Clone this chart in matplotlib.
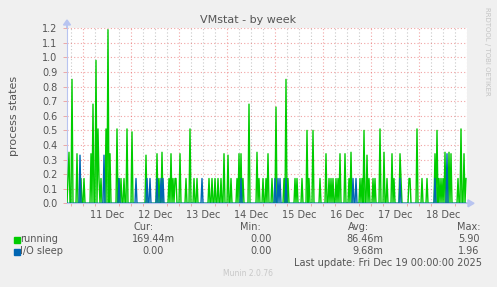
"""
Munin style "VMstat - by week" chart.
Output: out.png (497x287 px)
"""
import numpy as np
import matplotlib
matplotlib.use("Agg")
import matplotlib.pyplot as plt
from matplotlib.patches import Rectangle, FancyArrow

# ── Data (30-minute slots, slot 0 = Dec 10 16:00, 400 slots up to Dec 19 00:00) ──
N_SLOTS = 400
START_H = 16.0          # hours after Dec 10 00:00
SLOT_H = 0.5

RUN_SLOTS = [1, 2, 5, 10, 14, 17, 24, 26, 29, 31, 32, 34, 39, 41, 43, 50, 52, 54,
             57, 60, 65, 79, 90, 92, 95, 102, 104, 106, 108, 109, 113, 119, 123,
             127, 130, 142, 145, 148, 151, 154, 157, 161, 164, 170, 172, 174, 176,
             182, 190, 192, 196, 199, 201, 205, 209, 217, 219, 221, 228, 230, 235,
             240, 242, 246, 253, 259, 262, 264, 266, 269, 271, 273, 278, 282, 284,
             293, 295, 297, 300, 302, 306, 308, 313, 317, 320, 325, 327, 333, 334,
             342, 343, 350, 355, 360, 368, 370, 372, 374, 376, 378, 382, 384, 391,
             394, 397, 399]
RUN_VALS = [0.17, 0.35, 0.85, 0.34, 0.17, 0.17, 0.34, 0.68, 0.98, 0.51, 0.17, 0.17,
            0.51, 1.19, 0.34, 0.51, 0.17, 0.17, 0.17, 0.51, 0.49, 0.33, 0.34, 0.17,
            0.35, 0.17, 0.34, 0.17, 0.17, 0.17, 0.34, 0.17, 0.51, 0.17, 0.17, 0.17,
            0.17, 0.17, 0.17, 0.17, 0.34, 0.33, 0.17, 0.17, 0.34, 0.34, 0.17, 0.68,
            0.35, 0.17, 0.17, 0.17, 0.34, 0.17, 0.66, 0.17, 0.85, 0.17, 0.17, 0.17,
            0.17, 0.50, 0.17, 0.50, 0.17, 0.34, 0.17, 0.17, 0.17, 0.17, 0.17, 0.34,
            0.34, 0.17, 0.35, 0.17, 0.17, 0.50, 0.33, 0.17, 0.17, 0.17, 0.51, 0.35,
            0.17, 0.34, 0.17, 0.34, 0.17, 0.17, 0.17, 0.51, 0.17, 0.17, 0.34, 0.50,
            0.17, 0.17, 0.17, 0.35, 0.35, 0.34, 0.17, 0.51, 0.34, 0.17]

IO_SLOTS = [13, 37, 52, 69, 80, 83, 90, 94, 96, 135, 174, 208, 211, 213, 219,
            286, 289, 333, 368, 380]
IO_VALS = [0.33, 0.33, 0.17, 0.17, 0.17, 0.17, 0.17, 0.17, 0.17, 0.17, 0.17, 0.17,
           0.17, 0.17, 0.17, 0.17, 0.17, 0.17, 0.17, 0.34]

DAY_LABELS = ["11 Dec", "12 Dec", "13 Dec", "14 Dec", "15 Dec", "16 Dec",
              "17 Dec", "18 Dec"]
Y_TICKS = [0.0, 0.1, 0.2, 0.3, 0.4, 0.5, 0.6, 0.7, 0.8, 0.9, 1.0, 1.1, 1.2]

SERIES_NAMES = ["running", "I/O sleep"]
CUR = ["169.44m", "0.00"]
MIN = ["0.00", "0.00"]
AVG = ["86.46m", "9.68m"]
MAX = ["5.90", "1.96"]

# ── Build series ──────────────────────────────────────────────────────────────
hours = START_H + SLOT_H * np.arange(N_SLOTS)
running = np.zeros(N_SLOTS)
running[RUN_SLOTS] = RUN_VALS
io_sleep = np.zeros(N_SLOTS)
io_sleep[IO_SLOTS] = IO_VALS

# ── Style ─────────────────────────────────────────────────────────────────────
BG = "#F0F0F0"
TXT = "#555555"
GREEN = "#00CC00"
BLUE = "#0066B3"
MAJ = (0.9, 0.35, 0.35, 0.55)
MINC = "#C8C8C8"
AXC = "#B8C4F0"

W, H = 497, 287
fig = plt.figure(figsize=(W / 100, H / 100), dpi=100)
fig.patch.set_facecolor(BG)

def fx(px):
    return px / W

def fy(py):
    return 1 - py / H

ax = fig.add_axes([fx(67), fy(203.3), fx(467) - fx(67), fy(28.3) - fy(203.3)])
ax.set_facecolor("white")
ax.set_xlim(16, 216)
ax.set_ylim(0, 1.2)

# grid
midnights = np.arange(24, 217, 24)
six_h = [h for h in np.arange(18, 216, 6) if h % 24 != 0]
ax.vlines(six_h, 0, 1.2, colors=MINC, linestyles=(0, (1, 2)), linewidth=0.8, zorder=1)
ax.vlines(midnights, 0, 1.2, colors=[MAJ], linestyles=(0, (1, 2)), linewidth=0.8, zorder=1)
ax.hlines(Y_TICKS[1:], 16, 216, colors=[MAJ], linestyles=(0, (1, 2)), linewidth=0.8, zorder=1)

# data
ax.plot(hours, running, color=GREEN, linewidth=1.0, zorder=3)
ax.plot(hours, io_sleep, color=BLUE, linewidth=1.0, zorder=4)

# axes
for s in ["top", "right"]:
    ax.spines[s].set_visible(False)
ax.spines["left"].set_color(AXC)
ax.spines["bottom"].set_color(AXC)
ax.spines["left"].set_linewidth(0.8)
ax.spines["bottom"].set_linewidth(0.8)

ax.set_yticks(Y_TICKS)
ax.set_yticklabels([f"{v:.1f}" for v in Y_TICKS])
ax.tick_params(axis="y", length=3, width=0.6, color=MAJ, pad=4,
               labelsize=7, labelcolor=TXT)
ax.set_xticks(np.arange(36, 216, 24))
ax.set_xticklabels(DAY_LABELS)
ax.tick_params(axis="x", length=0, pad=5, labelsize=7, labelcolor=TXT)
ax.set_xticks(np.arange(18, 216, 6), minor=True)
ax.tick_params(axis="x", which="minor", length=2, width=0.6, color=MAJ)

ax.set_ylabel("process states", fontsize=8, color=TXT)
ax.yaxis.set_label_coords((19 - 67) / 400, 0.5)

# axis arrows
fig.patches.append(FancyArrow(fx(67), fy(28), 0, fy(20) - fy(28), width=0.0,
                              head_width=fx(7), head_length=fy(20) - fy(25),
                              length_includes_head=True, color=AXC,
                              transform=fig.transFigure, figure=fig))
fig.patches.append(FancyArrow(fx(467), fy(203.3), fx(474) - fx(467), 0, width=0.0,
                              head_width=fy(196) - fy(203), head_length=fx(6),
                              length_includes_head=True, color=AXC,
                              transform=fig.transFigure, figure=fig))

# title and side texts
fig.text(fx(248), fy(20), "VMstat - by week", ha="center", va="center",
         fontsize=8, color=TXT)
fig.text(fx(487.5), fy(51), "RRDTOOL / TOBI OETIKER", ha="center", va="center",
         rotation=270, fontsize=5, color="#C4C4C4")

# legend block
fig.text(fx(133), fy(227), "Cur:", ha="left", va="center", fontsize=7, color=TXT)
fig.text(fx(240), fy(227), "Min:", ha="left", va="center", fontsize=7, color=TXT)
fig.text(fx(347.7), fy(227), "Avg:", ha="left", va="center", fontsize=7, color=TXT)
fig.text(fx(480), fy(227), "Max:", ha="right", va="center", fontsize=7, color=TXT)

row_y = [239.5, 251.5]
colors = [GREEN, BLUE]
cur_right = [175.5, 163.5]
for i, name in enumerate(SERIES_NAMES):
    y = row_y[i]
    fig.patches.append(Rectangle((fx(14), fy(y + 3)), fx(5.5), fy(y - 3) - fy(y + 3),
                                 transform=fig.transFigure, color=colors[i]))
    fig.text(fx(20.5), fy(y), name, ha="left", va="center", fontsize=7, color=TXT)
    fig.text(fx(cur_right[i]), fy(y), CUR[i], ha="right", va="center",
             fontsize=7, color=TXT)
    fig.text(fx(272), fy(y), MIN[i], ha="right", va="center", fontsize=7, color=TXT)
    fig.text(fx(383.5), fy(y), AVG[i], ha="right", va="center", fontsize=7, color=TXT)
    fig.text(fx(479.5), fy(y), MAX[i], ha="right", va="center", fontsize=7, color=TXT)

fig.text(fx(482.5), fy(263.5), "Last update: Fri Dec 19 00:00:00 2025", ha="right",
         va="center", fontsize=7, color=TXT)
fig.text(fx(248), fy(274), "Munin 2.0.76", ha="center", va="center",
         fontsize=5.5, color="#C8C8C8")

fig.savefig("out.png", dpi=100, facecolor=BG)
plt.close(fig)
